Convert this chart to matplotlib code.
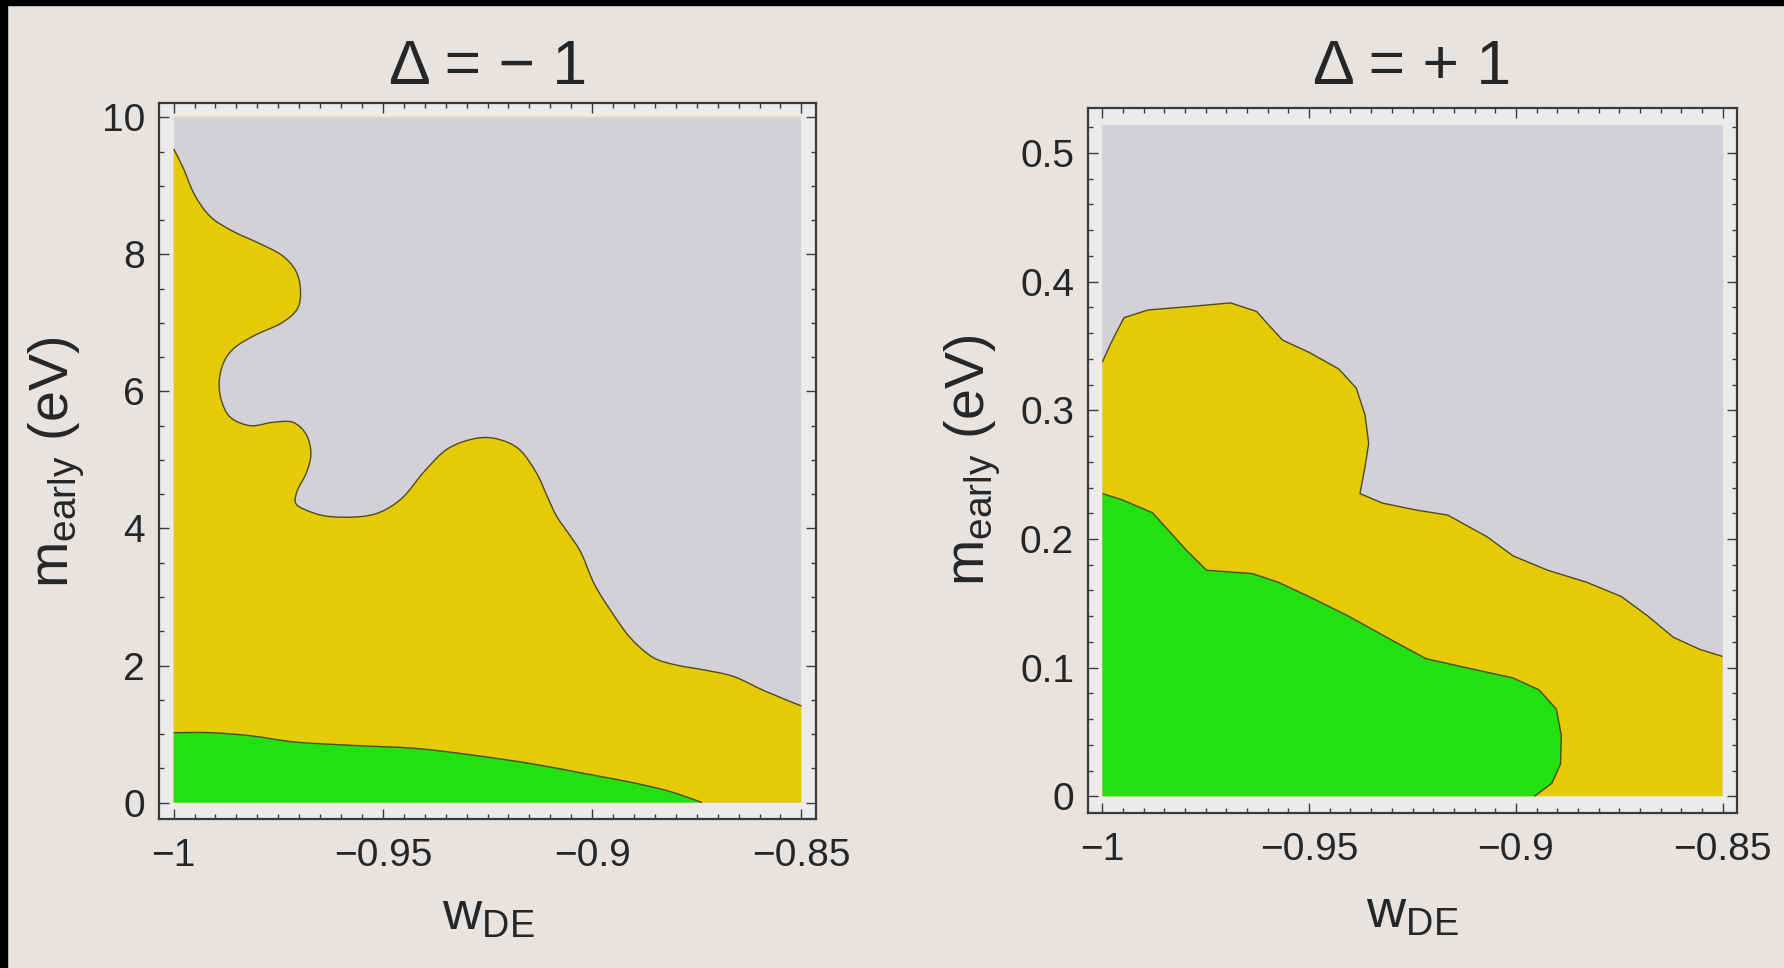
import matplotlib
matplotlib.use("Agg")
import matplotlib.pyplot as plt
from matplotlib.patches import Rectangle, PathPatch
from matplotlib.path import Path
from matplotlib.ticker import MultipleLocator

plt.rcParams["font.family"] = ["Liberation Sans", "DejaVu Sans"]
plt.rcParams["mathtext.fontset"] = "custom"
plt.rcParams["mathtext.rm"] = "Liberation Sans"
plt.rcParams["mathtext.it"] = "Liberation Sans"
plt.rcParams["axes.unicode_minus"] = True

# ---------------------------------------------------------------- data
W_RANGE = (-1.0, -0.85)
M_TOP_NEG = 10.0      # plotted m_early range, Delta = -1
M_TOP_POS = 0.522     # plotted m_early range, Delta = +1

x_ticks = [-1.0, -0.95, -0.9, -0.85]
x_ticklabels = ["\u22121", "\u22120.95", "\u22120.9", "\u22120.85"]
y_ticks_neg = [0, 2, 4, 6, 8, 10]
y_ticklabels_neg = ["0", "2", "4", "6", "8", "10"]
y_ticks_pos = [0, 0.1, 0.2, 0.3, 0.4, 0.5]
y_ticklabels_pos = ["0", "0.1", "0.2", "0.3", "0.4", "0.5"]

# Delta = -1 : outer (2 sigma) contour, traced from the left edge downwards
neg_outer_w = [-1.0, -0.9977, -0.9950, -0.9912, -0.9859, -0.9795, -0.9742,
               -0.9709, -0.9697, -0.9704, -0.9742, -0.9806, -0.9854, -0.9880,
               -0.9891, -0.9886, -0.9864, -0.9816, -0.9763, -0.9715, -0.9683,
               -0.9672, -0.9683, -0.9704, -0.9709, -0.9688, -0.9635, -0.9560,
               -0.9506, -0.9453, -0.9400, -0.9346, -0.9282, -0.9229, -0.9175,
               -0.9133, -0.9106, -0.9084, -0.9052, -0.9026, -0.8994, -0.8951,
               -0.8908, -0.8855, -0.8801, -0.8737, -0.8662, -0.8588, -0.85]
neg_outer_m = [9.54, 9.26, 8.87, 8.55, 8.34, 8.16, 7.99,
               7.77, 7.49, 7.21, 7.00, 6.82, 6.64, 6.43,
               6.15, 5.87, 5.62, 5.50, 5.55, 5.55, 5.37,
               5.09, 4.81, 4.56, 4.38, 4.28, 4.18, 4.17,
               4.24, 4.45, 4.84, 5.16, 5.31, 5.31, 5.16,
               4.81, 4.45, 4.17, 3.89, 3.64, 3.18, 2.76,
               2.40, 2.12, 2.01, 1.94, 1.84, 1.63, 1.41]

# Delta = -1 : inner (1 sigma) contour
neg_inner_w = [-1.0, -0.9912, -0.9816, -0.9709, -0.9571, -0.9421, -0.9282,
               -0.9143, -0.9015, -0.8908, -0.8823, -0.8769, -0.8737]
neg_inner_m = [1.02, 1.02, 0.975, 0.883, 0.834, 0.79, 0.69,
               0.565, 0.42, 0.297, 0.177, 0.07, 0.0]

# Delta = +1 : outer (2 sigma) contour
pos_outer_w = [-1.0, -0.9979, -0.9948, -0.9890, -0.9795, -0.9690, -0.9627,
               -0.9596, -0.9564, -0.9501, -0.9428, -0.9386, -0.9365, -0.9356,
               -0.9365, -0.9377, -0.9323, -0.9238, -0.9165, -0.9070, -0.9007,
               -0.8923, -0.8829, -0.8745, -0.8682, -0.8619, -0.8556, -0.85]
pos_outer_m = [0.3377, 0.3526, 0.3720, 0.3780, 0.3805, 0.3835, 0.3768,
               0.3656, 0.3545, 0.3452, 0.3321, 0.3172, 0.2967, 0.2744,
               0.2558, 0.2353, 0.2279, 0.2223, 0.2186, 0.2018, 0.1869,
               0.1757, 0.1664, 0.1553, 0.1404, 0.1236, 0.1143, 0.1087]

# Delta = +1 : inner (1 sigma) contour
pos_inner_w = [-1.0, -0.9953, -0.9879, -0.9837, -0.9795, -0.9748, -0.9638,
               -0.9575, -0.9501, -0.9407, -0.9302, -0.9217, -0.9112, -0.9007,
               -0.8944, -0.8902, -0.8890, -0.8892, -0.8913, -0.8955]
pos_inner_m = [0.2353, 0.2305, 0.2204, 0.2055, 0.1906, 0.1757, 0.1731,
               0.1664, 0.1553, 0.1404, 0.1217, 0.1069, 0.0994, 0.0920,
               0.0827, 0.0678, 0.0473, 0.0249, 0.0101, 0.0]

# ---------------------------------------------------------------- style
SLIDE = "#e6e3e1"
FRAME_BG = "#edebea"
EXCLUDED = "#d3d0d8"
SIGMA2 = "#e5cb06"
SIGMA1 = "#22e012"
EDGE = "#4f4a1c"
AXIS = "#3a3a3a"
TXT = "#262626"


def contour_path(xs, ys, smooth, tail=()):
    """Path through the contour points (cubic Catmull-Rom segments when
    smooth), optionally continued by straight lines through `tail` and
    closed."""
    pts = list(zip(xs, ys))
    verts = [pts[0]]
    codes = [Path.MOVETO]
    n = len(pts)
    for i in range(n - 1):
        if smooth:
            p0 = pts[i - 1] if i > 0 else pts[i]
            p1, p2 = pts[i], pts[i + 1]
            p3 = pts[i + 2] if i + 2 < n else pts[i + 1]
            c1 = (p1[0] + (p2[0] - p0[0]) / 6, p1[1] + (p2[1] - p0[1]) / 6)
            c2 = (p2[0] - (p3[0] - p1[0]) / 6, p2[1] - (p3[1] - p1[1]) / 6)
            verts += [c1, c2, p2]
            codes += [Path.CURVE4] * 3
        else:
            verts.append(pts[i + 1])
            codes.append(Path.LINETO)
    if tail:
        for p in tail:
            verts.append(p)
            codes.append(Path.LINETO)
        verts.append(pts[0])
        codes.append(Path.CLOSEPOLY)
    return Path(verts, codes)


fig = plt.figure(figsize=(17.84, 9.68), dpi=100, facecolor=SLIDE)

# dark border strips along the top and left of the slide
fig.add_artist(Rectangle((0, 1 - 5 / 968), 1, 5 / 968, transform=fig.transFigure,
                         color="black", zorder=10))
fig.add_artist(Rectangle((0, 0), 7 / 1784, 1, transform=fig.transFigure,
                         color="black", zorder=10))


def panel(rect, ylim, top, outer, inner, yticks, yticklabels, yminor, smooth):
    ax = fig.add_axes(rect)
    ax.set_facecolor(FRAME_BG)
    w0, w1 = W_RANGE
    # excluded region
    ax.fill([w0, w1, w1, w0], [0, 0, top, top], color=EXCLUDED, lw=0, zorder=1)
    # 2 sigma region
    ow, om = outer
    ax.add_patch(PathPatch(contour_path(ow, om, smooth, [(w1, 0), (w0, 0)]),
                           facecolor=SIGMA2, lw=0, zorder=2))
    ax.add_patch(PathPatch(contour_path(ow, om, smooth), facecolor="none",
                           edgecolor=EDGE, lw=1.0, zorder=4))
    # 1 sigma region
    iw, im = inner
    ax.add_patch(PathPatch(contour_path(iw, im, smooth, [(w0, 0)]),
                           facecolor=SIGMA1, lw=0, zorder=3))
    ax.add_patch(PathPatch(contour_path(iw, im, smooth), facecolor="none",
                           edgecolor=EDGE, lw=1.0, zorder=4))

    ax.set_xlim(-1.0035, -0.8465)
    ax.set_ylim(*ylim)
    ax.set_xticks(x_ticks)
    ax.set_xticklabels(x_ticklabels)
    ax.set_yticks(yticks)
    ax.set_yticklabels(yticklabels)
    ax.xaxis.set_minor_locator(MultipleLocator(0.005))
    ax.yaxis.set_minor_locator(MultipleLocator(yminor))
    ax.tick_params(which="both", direction="in", top=True, right=True,
                   color=AXIS, width=1.0)
    ax.tick_params(which="major", length=7)
    ax.tick_params(which="minor", length=3.5)
    ax.tick_params(axis="x", which="major", labelsize=28, pad=14,
                   labelcolor=TXT)
    ax.tick_params(axis="y", which="major", labelsize=28, pad=10,
                   labelcolor=TXT)
    for s in ax.spines.values():
        s.set_color(AXIS)
        s.set_linewidth(1.6)
    return ax


ax1 = panel([159 / 1784, 1 - 819 / 968, 657 / 1784, 716 / 968],
            (-0.24, 10.21), M_TOP_NEG,
            (neg_outer_w, neg_outer_m), (neg_inner_w, neg_inner_m),
            y_ticks_neg, y_ticklabels_neg, 0.5, True)
ax1.plot(W_RANGE, [M_TOP_NEG, M_TOP_NEG], color="#eddcb8", lw=1.2, zorder=4)

ax2 = panel([1088 / 1784, 1 - 813 / 968, 649 / 1784, 705 / 968],
            (-0.013, 0.535), M_TOP_POS,
            (pos_outer_w, pos_outer_m), (pos_inner_w, pos_inner_m),
            y_ticks_pos, y_ticklabels_pos, 0.02, False)

# titles and axis labels
fig.text(488 / 1784, 1 - 84 / 968, "\u0394 = \u2212 1", ha="center",
         va="baseline", fontsize=45, color=TXT)
fig.text(1412 / 1784, 1 - 84 / 968, "\u0394 = + 1", ha="center",
         va="baseline", fontsize=45, color=TXT)

ylab = r"$\mathregular{m_{early}}$ (eV)"
fig.text(57 / 1784, 1 - 462 / 968, ylab, rotation=90, ha="center",
         va="center", fontsize=40, color=TXT)
fig.text(973 / 1784, 1 - 460 / 968, ylab, rotation=90, ha="center",
         va="center", fontsize=40, color=TXT)

xlab = r"$\mathregular{w_{DE}}$"
fig.text(488 / 1784, 1 - 916 / 968, xlab, ha="center", va="center",
         fontsize=39, color=TXT)
fig.text(1412 / 1784, 1 - 914 / 968, xlab, ha="center", va="center",
         fontsize=39, color=TXT)

fig.savefig("out.png", dpi=100, facecolor=SLIDE)
